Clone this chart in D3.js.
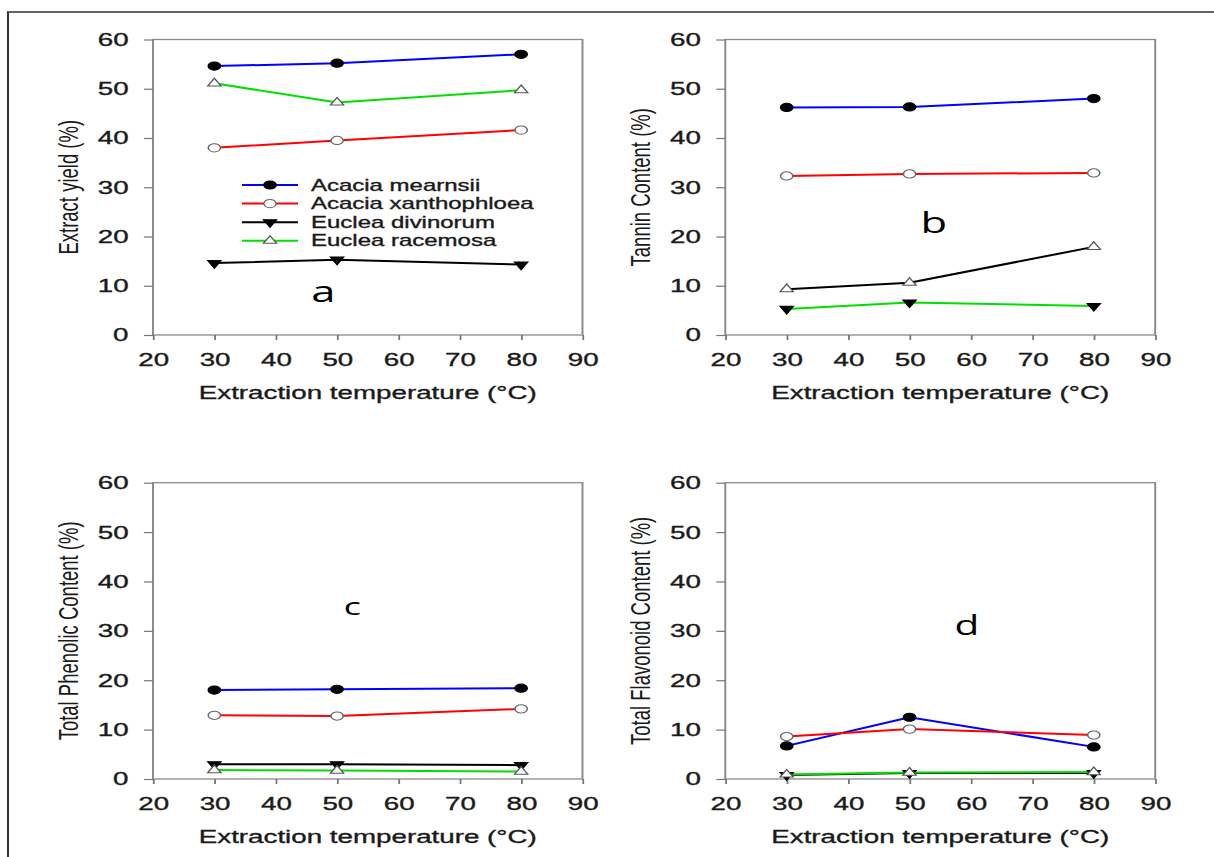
<!DOCTYPE html>
<html>
<head>
<meta charset="utf-8">
<script src="https://cdn.jsdelivr.net/npm/d3@7"></script>
<style>
  body { margin: 0; background: #fff; }
  svg { display: block; }
  .lbl { paint-order: stroke; stroke: #1a1a1a; stroke-width: 0.35px; }
</style>
</head>
<body>
<svg id="chart" width="1214" height="857"></svg>
<script>
// ---- data ----
const temperatures = [30, 50, 80];
const xTickValues = [20, 30, 40, 50, 60, 70, 80, 90];
const yTickValues = [0, 10, 20, 30, 40, 50, 60];
const speciesNames = ["Acacia mearnsii", "Acacia xanthophloea", "Euclea divinorum", "Euclea racemosa"];

// one row per species, one value per temperature
const extractYield     = [[54.6, 55.2, 57.0], [38.0, 39.5, 41.6], [14.6, 15.3, 14.3], [51.1, 47.2, 49.7]];
const tanninContent    = [[46.2, 46.3, 48.0], [32.3, 32.7, 32.9], [5.3, 6.6, 5.9],    [9.3, 10.6, 17.9]];
const phenolicContent  = [[18.0, 18.15, 18.4], [12.9, 12.75, 14.2], [3.0, 3.0, 2.8],  [1.8, 1.7, 1.5]];
const flavonoidContent = [[6.7, 12.5, 6.5],   [8.6, 10.1, 8.9],   [0.8, 1.2, 1.2],    [0.9, 1.3, 1.4]];

const panelLetters = ["a", "b", "c", "d"];
const yAxisTitles = ["Extract yield (%)", "Tannin Content (%)", "Total Phenolic Content (%)", "Total Flavonoid Content (%)"];
const xAxisTitle = "Extraction temperature (\u00B0C)";

// ---- styling ----
const SX = 1.5;                      // horizontal stretch of the whole figure
const px = v => v / SX;
const TICK_FONT = "'Liberation Sans', Arial, sans-serif";
const BLUE = "#0000ff", RED = "#ff0000", BLACK = "#000000", GREEN = "#00e000";
const markerShapes = ["dot", "ring", "down", "up"];
const defaultColors = [BLUE, RED, BLACK, GREEN];
const swappedColors = [BLUE, RED, GREEN, BLACK];

const panels = [
  { values: extractYield,     colors: defaultColors, left: 153,   right: 582.5,  top: 39.5,  bottom: 335, letter: { x: 323.4, y: 301.7, size: 29 }, legend: true },
  { values: tanninContent,    colors: swappedColors, left: 725.3, right: 1155.2, top: 39.5,  bottom: 335, letter: { x: 933.8, y: 233.3, size: 29 } },
  { values: phenolicContent,  colors: defaultColors, left: 153,   right: 582.5,  top: 482.7, bottom: 779, letter: { x: 352.5, y: 615,   size: 24 } },
  { values: flavonoidContent, colors: defaultColors, left: 725.3, right: 1155.2, top: 482.7, bottom: 779, letter: { x: 967,   y: 635,   size: 27 } }
];

const svg = d3.select("#chart");
const root = svg.append("g").attr("transform", `scale(${SX},1)`);

// outer figure border (top and left edges)
root.append("path")
  .attr("d", `M${px(1214)},12 H${px(8)} V857`)
  .attr("fill", "none")
  .attr("stroke", "#333")
  .attr("stroke-width", 1.4);

function drawMarker(sel, shape, cx, cy) {
  if (shape === "dot" || shape === "ring") {
    sel.append("circle")
      .attr("cx", cx).attr("cy", cy).attr("r", 4.1)
      .attr("fill", shape === "dot" ? "#000" : "#fff")
      .attr("stroke", shape === "dot" ? "#000" : "#666")
      .attr("stroke-width", 1);
  } else {
    const sym = d3.symbol().type(d3.symbolTriangle).size(34);
    sel.append("path")
      .attr("d", sym())
      .attr("transform", `translate(${cx},${cy})` + (shape === "down" ? " rotate(180)" : ""))
      .attr("fill", shape === "down" ? "#000" : "#fff")
      .attr("stroke", shape === "down" ? "#000" : "#555")
      .attr("stroke-width", 1);
  }
}

panels.forEach((P, i) => {
  const g = root.append("g");
  const x = d3.scaleLinear().domain([20, 90]).range([px(P.left), px(P.right)]);
  const y = d3.scaleLinear().domain([0, 60]).range([P.bottom, P.top]);

  // plot frame
  g.append("rect")
    .attr("x", x(20)).attr("y", y(60))
    .attr("width", x(90) - x(20)).attr("height", y(0) - y(60))
    .attr("fill", "none")
    .attr("stroke", "#8a8a8a")
    .attr("stroke-width", 1.3);

  // y axis
  const ya = g.append("g")
    .attr("transform", `translate(${x(20)},0)`)
    .call(d3.axisLeft(y).tickValues(yTickValues).tickSize(6).tickPadding(10.3).tickSizeOuter(0));
  ya.select(".domain").remove();
  ya.selectAll(".tick line").attr("stroke", "#777").attr("stroke-width", 1.2);
  ya.selectAll(".tick text").attr("class", "lbl")
    .attr("font-family", TICK_FONT).attr("font-size", 18.5).attr("fill", "#1a1a1a");

  // x axis
  const xa = g.append("g")
    .attr("transform", `translate(0,${y(0)})`)
    .call(d3.axisBottom(x).tickValues(xTickValues).tickSize(5).tickPadding(12.9).tickSizeOuter(0));
  xa.select(".domain").remove();
  xa.selectAll(".tick line").attr("stroke", "#777").attr("stroke-width", 1.2);
  xa.selectAll(".tick text").attr("class", "lbl")
    .attr("font-family", TICK_FONT).attr("font-size", 18.5).attr("fill", "#1a1a1a");

  // axis titles
  g.append("text").attr("class", "lbl")
    .attr("x", (x(20) + x(90)) / 2)
    .attr("y", P.bottom + 64)
    .attr("text-anchor", "middle")
    .attr("font-family", TICK_FONT).attr("font-size", 18.5).attr("fill", "#1a1a1a")
    .text(xAxisTitle);

  g.append("text")
    .attr("transform", `translate(${px(P.left - 75)},${(P.top + P.bottom) / 2}) rotate(-90)`)
    .attr("text-anchor", "middle")
    .attr("font-family", TICK_FONT).attr("font-size", 18.5).attr("fill", "#1a1a1a")
    .text(yAxisTitles[i]);

  // series lines
  const line = d3.line()
    .x((d, j) => x(temperatures[j]))
    .y(d => y(d));
  P.values.forEach((vals, s) => {
    g.append("path")
      .datum(vals)
      .attr("d", line)
      .attr("fill", "none")
      .attr("stroke", P.colors[s])
      .attr("stroke-width", 2);
  });

  // series markers
  P.values.forEach((vals, s) => {
    vals.forEach((v, j) => drawMarker(g, markerShapes[s], x(temperatures[j]), y(v)));
  });

  // panel letter
  g.append("text")
    .attr("x", px(P.letter.x)).attr("y", P.letter.y)
    .attr("text-anchor", "middle")
    .attr("font-family", "'Open Sans', 'Noto Sans', sans-serif")
    .attr("font-size", P.letter.size).attr("fill", "#000")
    .text(panelLetters[i]);

  // legend
  if (P.legend) {
    const lg = g.append("g");
    speciesNames.forEach((name, s) => {
      const ly = 185 + s * 18.6;
      lg.append("line")
        .attr("x1", px(242)).attr("x2", px(298))
        .attr("y1", ly).attr("y2", ly)
        .attr("stroke", P.colors[s]).attr("stroke-width", 2);
      drawMarker(lg, markerShapes[s], px(270), ly);
      lg.append("text").attr("class", "lbl")
        .attr("x", px(311)).attr("y", ly + 5.6)
        .attr("font-family", TICK_FONT).attr("font-size", 16).attr("fill", "#1a1a1a")
        .text(name);
    });
  }
});
</script>
</body>
</html>
